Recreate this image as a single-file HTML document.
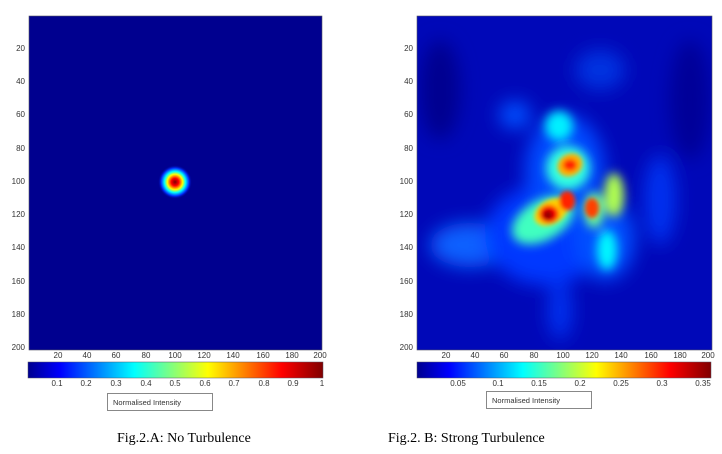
<!DOCTYPE html>
<html><head><meta charset="utf-8"><style>
body{margin:0;background:#fff;width:722px;height:449px;overflow:hidden}
svg text{font-family:"Liberation Sans",sans-serif;font-size:8px;fill:#333}
.cap{font-family:"Liberation Serif",serif;font-size:14px;fill:#000}
</style></head><body>
<svg width="722" height="449" xmlns="http://www.w3.org/2000/svg">
<defs>
<linearGradient id="jet" x1="0" x2="1" y1="0" y2="0">
<stop offset="0" stop-color="#00008f"/><stop offset="0.11" stop-color="#0000ff"/>
<stop offset="0.36" stop-color="#00ffff"/><stop offset="0.61" stop-color="#ffff00"/>
<stop offset="0.86" stop-color="#ff0000"/><stop offset="1" stop-color="#800000"/>
</linearGradient>
<radialGradient id="g1">
<stop offset="0" stop-color="#800000"/><stop offset="0.22" stop-color="#ff0000"/>
<stop offset="0.45" stop-color="#ffff00"/><stop offset="0.62" stop-color="#00ffff"/>
<stop offset="0.82" stop-color="#0030ff"/><stop offset="1" stop-color="#00008f" stop-opacity="0"/>
</radialGradient>
<filter id="b6" x="-50%" y="-50%" width="200%" height="200%"><feGaussianBlur stdDeviation="5"/></filter>
<filter id="b3" x="-50%" y="-50%" width="200%" height="200%"><feGaussianBlur stdDeviation="2.5"/></filter>
<filter id="b10" x="-50%" y="-50%" width="200%" height="200%"><feGaussianBlur stdDeviation="9"/></filter>
<clipPath id="cr"><rect x="417" y="16" width="295" height="334"/></clipPath>
</defs>
<!-- left -->
<rect x="29" y="16" width="293" height="334" fill="#00008f" stroke="#556" stroke-width="0.6"/>
<circle cx="175" cy="182" r="17" fill="url(#g1)"/>
<g text-anchor="end">
<text x="25" y="51">20</text><text x="25" y="84">40</text><text x="25" y="117">60</text><text x="25" y="151">80</text><text x="25" y="184">100</text><text x="25" y="217">120</text><text x="25" y="250">140</text><text x="25" y="284">160</text><text x="25" y="317">180</text><text x="25" y="350">200</text>
</g>
<g text-anchor="middle">
<text x="58" y="358">20</text><text x="87" y="358">40</text><text x="116" y="358">60</text><text x="146" y="358">80</text><text x="175" y="358">100</text><text x="204" y="358">120</text><text x="233" y="358">140</text><text x="263" y="358">160</text><text x="292" y="358">180</text><text x="320" y="358">200</text>
</g>
<rect x="28" y="362" width="295" height="16" fill="url(#jet)" stroke="#556" stroke-width="0.5"/>
<g text-anchor="middle">
<text x="57" y="386">0.1</text><text x="86" y="386">0.2</text><text x="116" y="386">0.3</text><text x="146" y="386">0.4</text><text x="175" y="386">0.5</text><text x="205" y="386">0.6</text><text x="234" y="386">0.7</text><text x="264" y="386">0.8</text><text x="293" y="386">0.9</text><text x="322" y="386">1</text>
</g>
<rect x="107.5" y="393.5" width="105" height="17" fill="#fff" stroke="#888"/>
<text x="113" y="405" style="font-size:7.5px">Normalised Intensity</text>
<!-- right -->
<rect x="417" y="16" width="295" height="334" fill="#0008b8"/>
<g clip-path="url(#cr)">
<g filter="url(#b10)">
<ellipse cx="440" cy="90" rx="20" ry="50" fill="#000090"/>
<ellipse cx="690" cy="100" rx="20" ry="60" fill="#000098"/>
<ellipse cx="470" cy="245" rx="40" ry="22" fill="#1060ff"/>
<ellipse cx="545" cy="235" rx="60" ry="50" fill="#0038ff"/>
<ellipse cx="565" cy="170" rx="40" ry="55" fill="#0048ff"/>
<ellipse cx="560" cy="310" rx="12" ry="30" fill="#0030f0"/>
<ellipse cx="660" cy="200" rx="16" ry="45" fill="#0030f0"/>
<ellipse cx="515" cy="115" rx="16" ry="14" fill="#0050ff"/>
<ellipse cx="600" cy="70" rx="25" ry="20" fill="#0030e0"/>
<ellipse cx="605" cy="240" rx="30" ry="40" fill="#0050ff"/>
</g>
<g filter="url(#b6)">
<ellipse cx="559" cy="126" rx="14" ry="15" fill="#00f0ff"/>
<ellipse cx="568" cy="168" rx="22" ry="22" fill="#30ffe0"/>
<ellipse cx="543" cy="220" rx="34" ry="20" fill="#40ffc0" transform="rotate(-30 543 220)"/>
<ellipse cx="614" cy="195" rx="10" ry="22" fill="#b0ff50"/>
<ellipse cx="607" cy="250" rx="10" ry="20" fill="#00f8ff"/>
<ellipse cx="594" cy="210" rx="10" ry="18" fill="#70ff90"/>
</g>
<g filter="url(#b3)">
<ellipse cx="570" cy="165" rx="13" ry="11" fill="#ffb000" transform="rotate(-30 570 165)"/>
<ellipse cx="570" cy="165" rx="7" ry="6" fill="#ff2000"/>
<ellipse cx="551" cy="212" rx="18" ry="12" fill="#ffd000" transform="rotate(-30 551 212)"/>
<ellipse cx="549" cy="214" rx="10" ry="9" fill="#ff0000"/>
<ellipse cx="567" cy="201" rx="8" ry="10" fill="#ff2000"/>
<ellipse cx="592" cy="208" rx="7" ry="10" fill="#ff4000"/>
<ellipse cx="548" cy="215" rx="5" ry="5" fill="#900000"/>
</g>
</g>
<rect x="417" y="16" width="295" height="334" fill="none" stroke="#556" stroke-width="0.6"/>
<g text-anchor="end">
<text x="413" y="51">20</text><text x="413" y="84">40</text><text x="413" y="117">60</text><text x="413" y="151">80</text><text x="413" y="184">100</text><text x="413" y="217">120</text><text x="413" y="250">140</text><text x="413" y="284">160</text><text x="413" y="317">180</text><text x="413" y="350">200</text>
</g>
<g text-anchor="middle">
<text x="446" y="358">20</text><text x="475" y="358">40</text><text x="504" y="358">60</text><text x="534" y="358">80</text><text x="563" y="358">100</text><text x="592" y="358">120</text><text x="621" y="358">140</text><text x="651" y="358">160</text><text x="680" y="358">180</text><text x="708" y="358">200</text>
</g>
<rect x="417" y="362" width="294" height="16" fill="url(#jet)" stroke="#556" stroke-width="0.5"/>
<g text-anchor="middle">
<text x="458" y="386">0.05</text><text x="498" y="386">0.1</text><text x="539" y="386">0.15</text><text x="580" y="386">0.2</text><text x="621" y="386">0.25</text><text x="662" y="386">0.3</text><text x="703" y="386">0.35</text>
</g>
<rect x="486.5" y="391.5" width="105" height="17" fill="#fff" stroke="#888"/>
<text x="492" y="403" style="font-size:7.5px">Normalised Intensity</text>
<text class="cap" x="117" y="442">Fig.2.A: No Turbulence</text>
<text class="cap" x="388" y="442">Fig.2. B:  Strong Turbulence</text>
</svg>
</body></html>
